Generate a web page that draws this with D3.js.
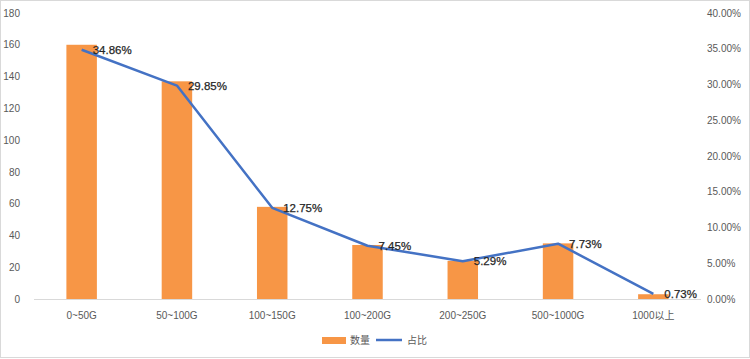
<!DOCTYPE html>
<html><head><meta charset="utf-8">
<script src="https://cdn.jsdelivr.net/npm/d3@7/dist/d3.min.js"></script>
<style>
body{margin:0;background:#fff;}
text{font-family:"Liberation Sans","Noto Sans CJK SC",sans-serif;}
</style></head>
<body><svg id="c" width="750" height="359"></svg>
<script>
const categories = ["0~50G","50~100G","100~150G","100~200G","200~250G","500~1000G","1000以上"];
const counts = [160, 137, 58, 34, 24, 35, 3];
const shares = [34.86, 29.85, 12.75, 7.45, 5.29, 7.73, 0.73];
const leftTicks = [0,20,40,60,80,100,120,140,160,180];
const rightTicks = [0,5,10,15,20,25,30,35,40];
const seriesNames = ["数量","占比"];

const svg = d3.select("#c");
const W = 750, H = 359;
const m = {l:34, r:701, t:13, b:299};
const barColor = "#F79646", lineColor = "#4472C4", txt = "#595959";

svg.append("rect").attr("x",0.5).attr("y",0.5).attr("width",W-1).attr("height",H-2)
  .attr("fill","#fff").attr("stroke","#d9d9d9");

const x = d3.scaleBand().domain(categories).range([m.l, m.r]).paddingInner(0.68).paddingOuter(0.34);
const yL = d3.scaleLinear().domain([0,180]).range([m.b, m.t]);
const yR = d3.scaleLinear().domain([0,40]).range([m.b, m.t]);

const gL = svg.append("g").attr("transform",`translate(${m.l-6},0)`)
  .call(d3.axisLeft(yL).tickValues(leftTicks).tickSize(0).tickPadding(0));
gL.select(".domain").remove();
gL.selectAll("text").attr("fill",txt).style("font-size","10px").attr("text-anchor","end").attr("dx","-8").attr("dy","0.32em");

const gR = svg.append("g").attr("transform",`translate(${m.r+6},0)`)
  .call(d3.axisRight(yR).tickValues(rightTicks).tickSize(0).tickPadding(0).tickFormat(d=>d.toFixed(2)+"%"));
gR.select(".domain").remove();
gR.selectAll("text").attr("fill",txt).style("font-size","10px").attr("dy","0.32em");

svg.append("g").selectAll("rect").data(counts).join("rect")
  .attr("x",(d,i)=>x(categories[i])).attr("width",x.bandwidth())
  .attr("y",d=>yL(d)).attr("height",d=>yL(0)-yL(d)).attr("fill",barColor);

svg.append("line").attr("x1",m.l).attr("x2",m.r).attr("y1",m.b+0.5).attr("y2",m.b+0.5).attr("stroke","#d9d9d9");

const gX = svg.append("g").attr("transform",`translate(0,${m.b})`)
  .call(d3.axisBottom(x).tickSize(0).tickPadding(13));
gX.select(".domain").remove();
gX.selectAll("text").attr("fill",txt).style("font-size","10px");

const cx = i => x(categories[i]) + x.bandwidth()/2;
svg.append("path").datum(shares)
  .attr("d", d3.line().x((d,i)=>cx(i)).y(d=>yR(d)))
  .attr("fill","none").attr("stroke",lineColor).attr("stroke-width",2.5).attr("stroke-linejoin","round");

svg.append("g").selectAll("text").data(shares).join("text")
  .attr("x",(d,i)=>cx(i)+11).attr("y",d=>yR(d)).attr("dy","0.35em")
  .attr("fill","#262626").attr("stroke","#262626").attr("stroke-width",0.25).style("font-size","11.5px")
  .text(d=>d.toFixed(2)+"%");

const lg = svg.append("g");
lg.append("rect").attr("x",322).attr("y",337).attr("width",24).attr("height",7).attr("fill",barColor);
lg.append("text").attr("x",350).attr("y",340.5).attr("dy","0.35em").attr("fill",txt).style("font-size","10px").text(seriesNames[0]);
lg.append("line").attr("x1",376).attr("x2",402).attr("y1",340).attr("y2",340).attr("stroke",lineColor).attr("stroke-width",2.5);
lg.append("text").attr("x",407).attr("y",340.5).attr("dy","0.35em").attr("fill",txt).style("font-size","10px").text(seriesNames[1]);
</script></body></html>
